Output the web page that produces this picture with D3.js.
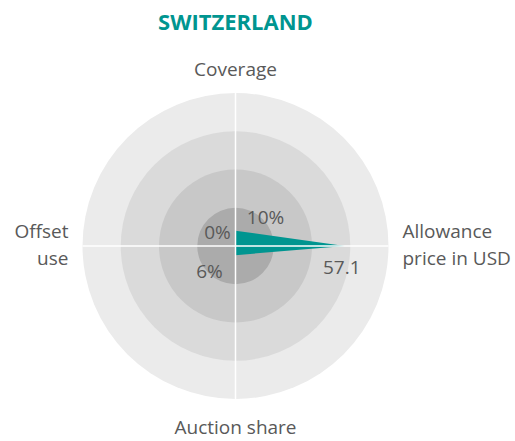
<!DOCTYPE html>
<html>
<head>
<meta charset="utf-8">
<script src="https://cdnjs.cloudflare.com/ajax/libs/d3/7.8.5/d3.min.js"></script>
<style>
  body { margin: 0; background: #ffffff; }
  text { font-family: "Open Sans", "Noto Sans", sans-serif; }
</style>
</head>
<body>
<div id="container"></div>
<script>
// ******* Data *******
var axes = ["Coverage", "Allowance price in USD", "Auction share", "Offset use"];
var values = [10, 57.1, 6, 0];
var axisMax = [100, 80, 100, 100];
var valueLabels = ["10%", "57.1", "6%", "0%"];
var axisLabelLines = [["Coverage"], ["Allowance", "price in USD"], ["Auction share"], ["Offset", "use"]];
var rings = [4, 3, 2, 1]; // drawn outer to inner

// ******* Layout *******
var width = 515, height = 441;
var cx = 235.5, cy = 246, radius = 153;
var teal = "#009590";
var ringColors = {4: "#ebebeb", 3: "#dadada", 2: "#c8c8c8", 1: "#ababab"};

var svg = d3.select("#container").append("svg")
  .attr("width", width)
  .attr("height", height);

// title
svg.append("text")
  .attr("x", cx)
  .attr("y", 30)
  .attr("text-anchor", "middle")
  .style("font-size", "22px")
  .style("font-weight", "bold")
  .style("fill", teal)
  .text("SWITZERLAND");

var g = svg.append("g")
  .attr("transform", "translate(" + cx + "," + cy + ")");

var ringScale = d3.scaleLinear().domain([0, 4]).range([0, radius]);

// ******* Background rings *******
g.selectAll(".ring")
  .data(rings)
  .enter().append("circle")
  .attr("class", "ring")
  .attr("r", function(d) { return ringScale(d); })
  .style("fill", function(d) { return ringColors[d]; });

// one scale per axis, all starting at the centre
var scales = axes.map(function(a, i) {
  return d3.scaleLinear().domain([0, axisMax[i]]).range([0, radius]);
});
var angle = d3.scalePoint().domain(axes).range([0, 2 * Math.PI * 3 / 4]);

// ******* Value shape *******
var radial = d3.lineRadial()
  .angle(function(d, i) { return angle(axes[i]); })
  .radius(function(d, i) { return scales[i](d); })
  .curve(d3.curveLinearClosed);

g.append("path")
  .datum(values)
  .attr("d", radial)
  .style("fill", teal);

// ******* Axis lines (white, on top) *******
g.selectAll(".axis-line")
  .data(axes)
  .enter().append("line")
  .attr("class", "axis-line")
  .attr("x1", 0).attr("y1", 0)
  .attr("x2", function(d) { return radius * Math.sin(angle(d)); })
  .attr("y2", function(d) { return -radius * Math.cos(angle(d)); })
  .style("stroke", "#ffffff")
  .style("stroke-width", 1.5);

// ******* Value labels *******
var labelOffsets = [[30, -7], [-3, 28], [-26, 23], [-18, -7]]; // nudges from the point
g.selectAll(".value-label")
  .data(values)
  .enter().append("text")
  .attr("class", "value-label")
  .attr("x", function(d, i) { return scales[i](d) * Math.sin(angle(axes[i])) + labelOffsets[i][0]; })
  .attr("y", function(d, i) { return -scales[i](d) * Math.cos(angle(axes[i])) + labelOffsets[i][1]; })
  .attr("text-anchor", "middle")
  .style("font-size", "19px")
  .style("fill", "#595959")
  .text(function(d, i) { return valueLabels[i]; });

// ******* Axis titles *******
var titlePos = [
  {x: 0, y: -170, anchor: "middle"},
  {x: 167, y: -8, anchor: "start"},
  {x: 0, y: 188, anchor: "middle"},
  {x: -167, y: -8, anchor: "end"}
];
var titles = g.selectAll(".axis-title")
  .data(axisLabelLines)
  .enter().append("text")
  .attr("class", "axis-title")
  .attr("text-anchor", function(d, i) { return titlePos[i].anchor; })
  .attr("transform", function(d, i) { return "translate(" + titlePos[i].x + "," + titlePos[i].y + ")"; })
  .style("font-size", "19px")
  .style("fill", "#595959");

titles.selectAll("tspan")
  .data(function(d) { return d; })
  .enter().append("tspan")
  .attr("x", 0)
  .attr("dy", function(d, j) { return j == 0 ? 0 : 27; })
  .text(function(d) { return d; });
</script>
</body>
</html>
